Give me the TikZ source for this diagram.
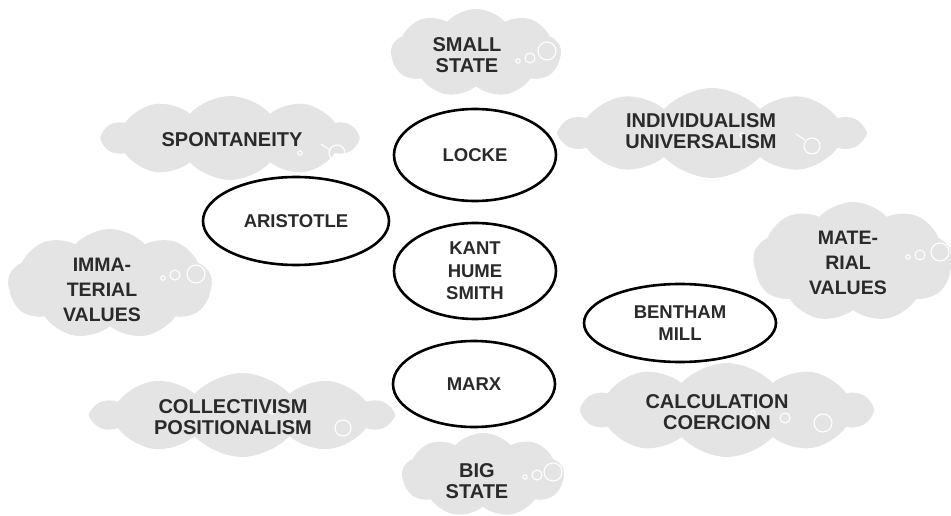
\documentclass[tikz,border=0pt]{standalone}
\usepackage{fontspec}
\setmainfont{Liberation Sans}
\usetikzlibrary{shapes.symbols,shapes.geometric}
\definecolor{cloudgray}{HTML}{E4E4E4}
\definecolor{ink}{HTML}{2A2A2A}

\begin{document}
\begin{tikzpicture}[x=1pt,y=-1pt,
  idea/.style={cloud, cloud puffs=10, cloud puff arc=95, cloud ignores aspect,
    fill=cloudgray, draw=none, inner sep=0pt},
  ideatext/.style={font=\bfseries\fontsize{20}{21.5}\selectfont, text=ink, align=center, inner sep=0pt},
  tallidea/.style={ideatext, font=\bfseries\fontsize{19.5}{25}\selectfont},
  thinker/.style={ellipse, draw=black, line width=2.6pt, fill=white, inner sep=0pt,
    font=\bfseries\fontsize{18.5}{22.5}\selectfont, text=ink, align=center},
  bubble/.style={draw=white, line width=1.1pt}
]
\useasboundingbox (0,0) rectangle (951,516);

% thought clouds
\node[idea, cloud puffs=9, minimum width=170pt, minimum height=88pt] (smallC) at (476,53) {};
\node[idea, minimum width=302pt, minimum height=90pt] (indivC) at (712,133) {};
\node[idea, minimum width=254pt, minimum height=84pt] (spontC) at (230,138) {};
\node[idea, cloud puffs=9, minimum width=204pt, minimum height=110pt] (immatC) at (110,284) {};
\node[idea, cloud puffs=9, minimum width=200pt, minimum height=120pt] (materC) at (853,262) {};
\node[idea, minimum width=298pt, minimum height=84pt] (collC) at (242,415) {};
\node[idea, minimum width=288pt, minimum height=94pt] (calcC) at (727,410) {};
\node[idea, cloud puffs=9, minimum width=162pt, minimum height=84pt] (bigC) at (483,475) {};

% small bubbles inside the clouds
\draw[bubble] (518,61) circle (2.2) (530,58) circle (5) (547,51) circle (9);
\draw[bubble] (525,477) circle (2.2) (537,475) circle (5) (553,472) circle (9);
\draw[bubble] (163,278) circle (2.2) (175,275) circle (5) (196,274) circle (9);
\draw[bubble] (908,257) circle (2.2) (920,255) circle (5) (940,252) circle (9);
\draw[bubble] (742,135) circle (2.2) (812,146) circle (8);
\draw[bubble] (796,134) -- (805,140);
\draw[bubble] (300,153) circle (2.2) (337,153) circle (8);
\draw[bubble] (321,144) -- (330,150);
\draw[bubble] (272,412) circle (2.2) (296,423) circle (3) (343,428) circle (8);
\draw[bubble] (753,413) circle (2.2) (785,418) circle (5) (823,423) circle (9);

% cloud texts
\node[ideatext] (smallT) at (467,55) {SMALL\\STATE};
\node[ideatext] (indivT) at (701,131) {INDIVIDUALISM\\UNIVERSALISM};
\node[ideatext] (spontT) at (232,140) {SPONTANEITY};
\node[tallidea] (immatT) at (102,290) {IMMA-\\TERIAL\\VALUES};
\node[tallidea] (materT) at (848,263) {MATE-\\RIAL\\VALUES};
\node[ideatext] (collT) at (233,417) {COLLECTIVISM\\POSITIONALISM};
\node[ideatext] (calcT) at (717,412) {CALCULATION\\COERCION};
\node[ideatext] (bigT) at (477,481) {BIG\\STATE};

% thinkers
\node[thinker, minimum width=162pt, minimum height=92pt] (locke) at (475,155) {LOCKE};
\node[thinker, minimum width=186pt, minimum height=88pt] (aristotle) at (296,221) {ARISTOTLE};
\node[thinker, minimum width=162pt, minimum height=96pt] (kant) at (475,271) {KANT\\HUME\\SMITH};
\node[thinker, minimum width=192pt, minimum height=78pt] (bentham) at (680,323) {BENTHAM\\MILL};
\node[thinker, minimum width=162pt, minimum height=86pt] (marx) at (474,384) {MARX};
\end{tikzpicture}
\end{document}
